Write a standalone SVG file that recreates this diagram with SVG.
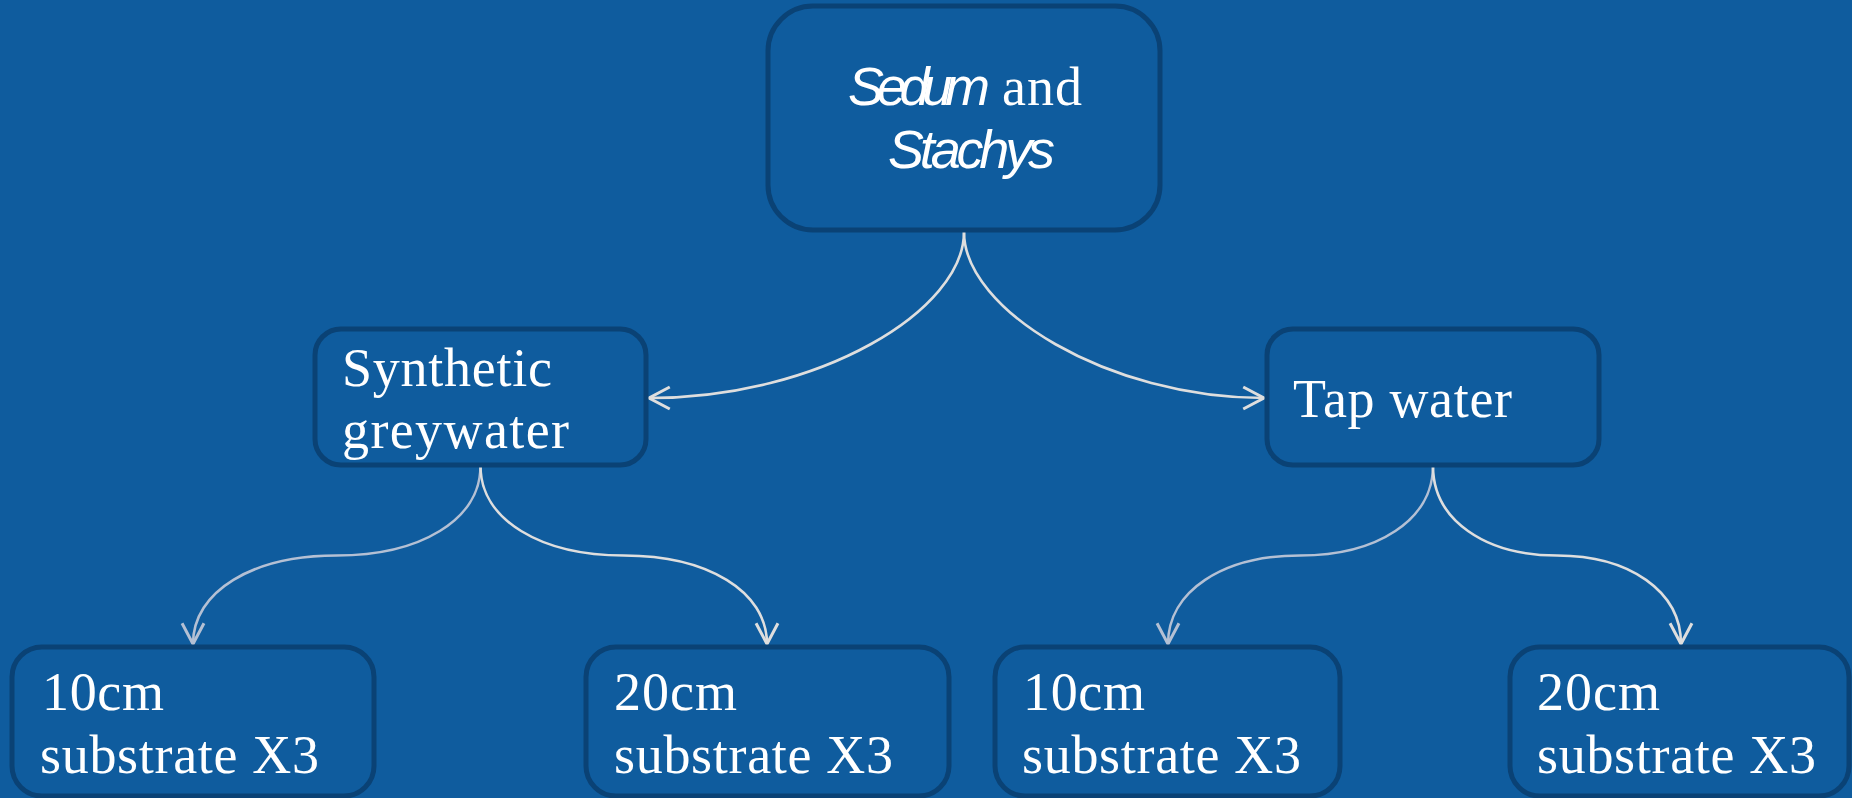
<svg xmlns="http://www.w3.org/2000/svg" width="1852" height="798" viewBox="0 0 1852 798">
<style>
.bg{fill:#0f5c9e}
.box{fill:#0f5c9e;stroke:#0a4275;stroke-width:5}
.t{font-family:"Liberation Serif","Times New Roman",serif;font-size:54px;fill:#ffffff}
.i{font-family:"Liberation Sans",Arial,sans-serif;font-style:italic;font-size:54px;fill:#ffffff}
.c{fill:none;stroke-width:2.6}
.cw{stroke:#dedede}
.cb{stroke:#b4c0d4}
</style>
<defs>
<marker id="aw" markerUnits="userSpaceOnUse" markerWidth="30" markerHeight="30" viewBox="-22 -12 26 24" refX="0" refY="0" orient="auto">
<path d="M -18 -9.5 L 0 0 L -18 9.5" fill="none" stroke="#dedede" stroke-width="2.6"/>
</marker>
<marker id="ab" markerUnits="userSpaceOnUse" markerWidth="30" markerHeight="30" viewBox="-22 -12 26 24" refX="0" refY="0" orient="auto">
<path d="M -18 -9.5 L 0 0 L -18 9.5" fill="none" stroke="#b4c0d4" stroke-width="2.6"/>
</marker>
</defs>
<rect class="bg" x="0" y="0" width="1852" height="798"/>

<g id="connectors">
<path class="c cw" marker-end="url(#aw)" d="M 964 232 C 964 310, 820 398, 649 398"/>
<path class="c cw" marker-end="url(#aw)" d="M 964 232 C 964 310, 1108 398, 1264 398"/>
<path class="c cb" marker-end="url(#ab)" d="M 480.5 466 C 480.5 520, 420 555.5, 336.5 555.5 C 253 555.5, 193 591, 193 644"/>
<path class="c cw" marker-end="url(#aw)" d="M 480.5 466 C 480.5 520, 541 555.5, 624 555.5 C 707 555.5, 767 591, 767 644"/>
<path class="c cb" marker-end="url(#ab)" d="M 1433 466 C 1433 520, 1377 555.5, 1300 555.5 C 1223 555.5, 1168 591, 1168 644"/>
<path class="c cw" marker-end="url(#aw)" d="M 1433 466 C 1433 520, 1485 555.5, 1557 555.5 C 1629 555.5, 1681 591, 1681 644"/>
</g>

<g id="node-root">
<rect class="box" x="768" y="6" width="392" height="224" rx="45" ry="45"/>
<text x="848" y="105"><tspan class="i" textLength="142">Sedum</tspan><tspan class="t" x="1002" textLength="80">and</tspan></text>
<text class="i" x="888" y="168" textLength="167">Stachys</text>
</g>

<g id="node-synthetic">
<rect class="box" x="315" y="329" width="331" height="136" rx="26" ry="26"/>
<text class="t" x="342" y="386" textLength="210">Synthetic</text>
<text class="t" x="342" y="448" textLength="227">greywater</text>
</g>

<g id="node-tap">
<rect class="box" x="1267" y="329" width="332" height="136" rx="26" ry="26"/>
<text class="t" x="1293" y="417" textLength="219">Tap water</text>
</g>

<g id="node-sg-10">
<rect class="box" x="12" y="647" width="362" height="149" rx="30" ry="30"/>
<text class="t" x="42" y="710" textLength="122">10cm</text>
<text class="t" x="40" y="773" textLength="279">substrate X3</text>
</g>

<g id="node-sg-20">
<rect class="box" x="586" y="647" width="363" height="149" rx="30" ry="30"/>
<text class="t" x="614" y="710" textLength="123">20cm</text>
<text class="t" x="614" y="773" textLength="279">substrate X3</text>
</g>

<g id="node-tw-10">
<rect class="box" x="995" y="647" width="345" height="149" rx="30" ry="30"/>
<text class="t" x="1023" y="710" textLength="122">10cm</text>
<text class="t" x="1022" y="773" textLength="279">substrate X3</text>
</g>

<g id="node-tw-20">
<rect class="box" x="1510" y="647" width="339" height="149" rx="30" ry="30"/>
<text class="t" x="1537" y="710" textLength="123">20cm</text>
<text class="t" x="1537" y="773" textLength="279">substrate X3</text>
</g>
</svg>
